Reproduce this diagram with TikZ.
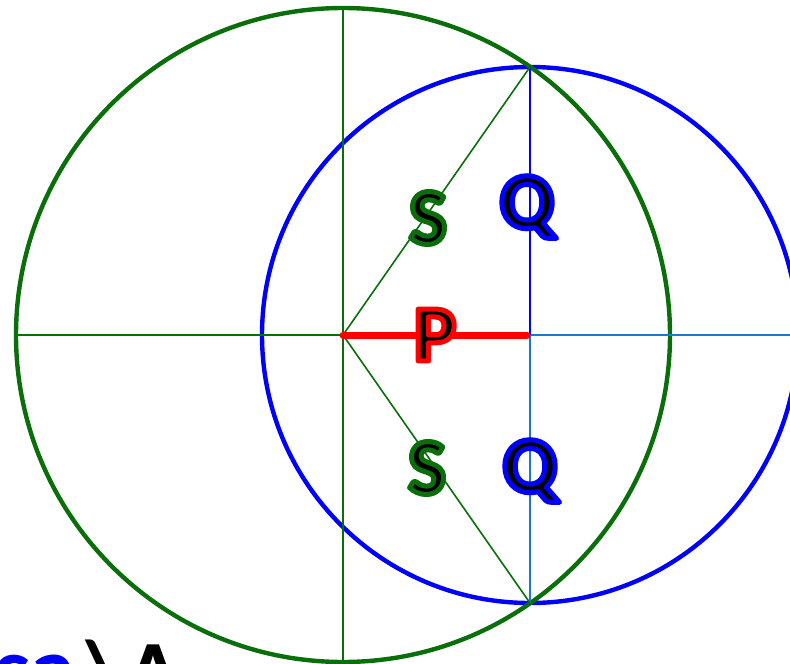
\documentclass[tikz,border=0pt]{standalone}
\usepackage{fontspec}
\setmainfont{Carlito}
\usetikzlibrary{calc}
\definecolor{circgreen}{HTML}{0A6E0A}
\definecolor{circblue}{HTML}{0000FF}
\definecolor{lineblue}{HTML}{1C78CE}
\definecolor{segred}{HTML}{FF0000}
% black letter with a stroked rim (stroke colour as r g b)
\newcommand{\rimmed}[2]{\special{pdf:code q #1 RG 5 w 1 j 2 Tr}#2\special{pdf:code 0 Tr Q}}

\begin{document}
\begin{tikzpicture}[x=1pt,y=-1pt,
  circline/.style={line width=4.4pt},
  thinline/.style={line width=1.6pt},
  letter/.style={font=\fontsize{80}{80}\selectfont\bfseries, inner sep=0pt, text=black}]
  \useasboundingbox (0,0) rectangle (790,664);
  \clip (0,0) rectangle (790,664);

  % Centres and crossing points
  \coordinate (O) at (343,335);
  \coordinate (C) at (530,335);
  \coordinate (T) at (530,67);
  \coordinate (B) at (530,603);
  \coordinate (Gl) at (16,335);
  \coordinate (Gt) at (343,8);
  \coordinate (Gb) at (343,662);
  \coordinate (Br) at (798,335);
  \coordinate (Pe) at (527,335);

  % Circles
  \draw[circblue, circline] (C) circle (268pt);
  \draw[circgreen, circline] (O) circle (327pt);

  % Axes
  \draw[circgreen, thinline] (Gl) -- (O);
  \draw[circgreen, thinline] (Gt) -- (Gb);
  \draw[lineblue, thinline] (C) -- (Br);
  \draw[circblue, thinline] (T) -- (C);
  \draw[lineblue, thinline] (C) -- (B);

  % Radii to the crossing points
  \draw[circgreen, thinline] (O) -- (T);
  \draw[circgreen, thinline] (O) -- (B);

  % Segment P
  \draw[segred, line width=7pt, line cap=round] (O) -- (Pe);

  % Labels
  \node[letter] (s1) at (428,218) {\rimmed{0.04 0.43 0.04}{S}};
  \node[letter] (q1) at (527,207) {\rimmed{0 0 1}{Q}};
  \node[letter] (p) at (435,335) {\rimmed{1 0 0}{P}};
  \node[letter] (s2) at (427,468) {\rimmed{0.04 0.43 0.04}{S}};
  \node[letter] (q2) at (530,471) {\rimmed{0 0 1}{Q}};

  % Cut-off caption
  \node[anchor=base west, inner sep=0pt, text=circblue,
    font=\fontsize{92}{92}\selectfont\bfseries] (cap1) at (-6,700) {sa};
  \node[anchor=base west, inner sep=0pt, text=black,
    font=\fontsize{92}{92}\selectfont\bfseries] (cap2) at (86,704) {\textbackslash A};
\end{tikzpicture}
\end{document}
